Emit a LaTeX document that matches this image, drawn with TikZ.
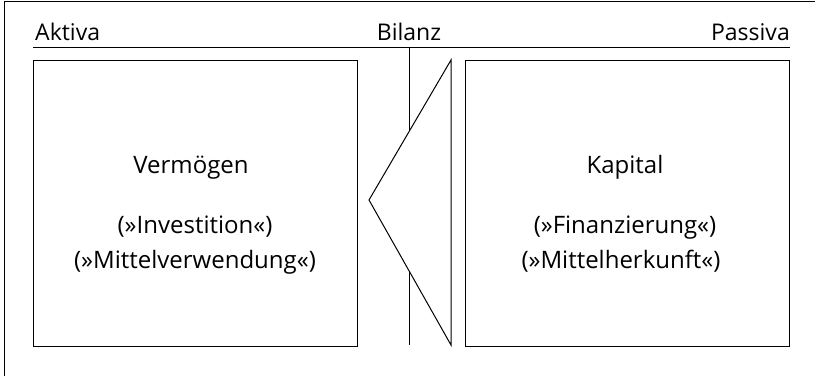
\documentclass[tikz,border=0pt]{standalone}
\usepackage{fontspec}
\setmainfont{Open Sans}
\begin{document}
\begin{tikzpicture}
		[x=1pt,y=-1pt,
		konto/.style={draw,line width=1pt,minimum width=324pt,minimum height=286pt,inner sep=0pt},
		kopf/.style={font=\fontsize{23}{27}\selectfont,inner sep=0pt},
		posten/.style={font=\fontsize{24}{28}\selectfont,inner sep=0pt,anchor=base}]
		\useasboundingbox (0,0) rectangle (815,376);
		% Rahmen
		\draw[line width=1pt] (4.5,376) -- (4.5,1) -- (815,1);
		% Kopfzeile
		\node[kopf,anchor=base west,name=aktiva] at (35,40) {Aktiva};
		\node[kopf,anchor=base,name=bilanz] at (409,40) {Bilanz};
		\node[kopf,anchor=base east,name=passiva] at (790,40) {Passiva};
		\coordinate (links) at (33,47);
		\coordinate (rechts) at (790,47);
		\draw[line width=1pt] (links) -- (rechts);
		% Konten
		\node[konto,name=vermoegen] at (195,203) {};
		\node[konto,name=kapital] at (627,203) {};
		\node[posten,name=v1] at (191,173) {Vermögen};
		\node[posten,name=v2] at (195,233) {(»Investition«)};
		\node[posten,name=v3] at (195,268) {(»Mittelverwendung«)};
		\node[posten,name=k1] at (625,173) {Kapital};
		\node[posten,name=k2] at (625,233) {(»Finanzierung«)};
		\node[posten,name=k3] at (621,268) {(»Mittelherkunft«)};
		% Trennlinie und Keil
		\coordinate (oben) at (409,47);
		\coordinate (unten) at (409,345);
		\draw[line width=1pt] (oben) -- (unten);
		\coordinate (spitze) at (369,200);
		\coordinate (keiloben) at (451,60);
		\coordinate (keilunten) at (451,345);
		\filldraw[line width=1pt,fill=white] (keiloben) -- (spitze) -- (keilunten) -- cycle;
	\end{tikzpicture}
\end{document}
